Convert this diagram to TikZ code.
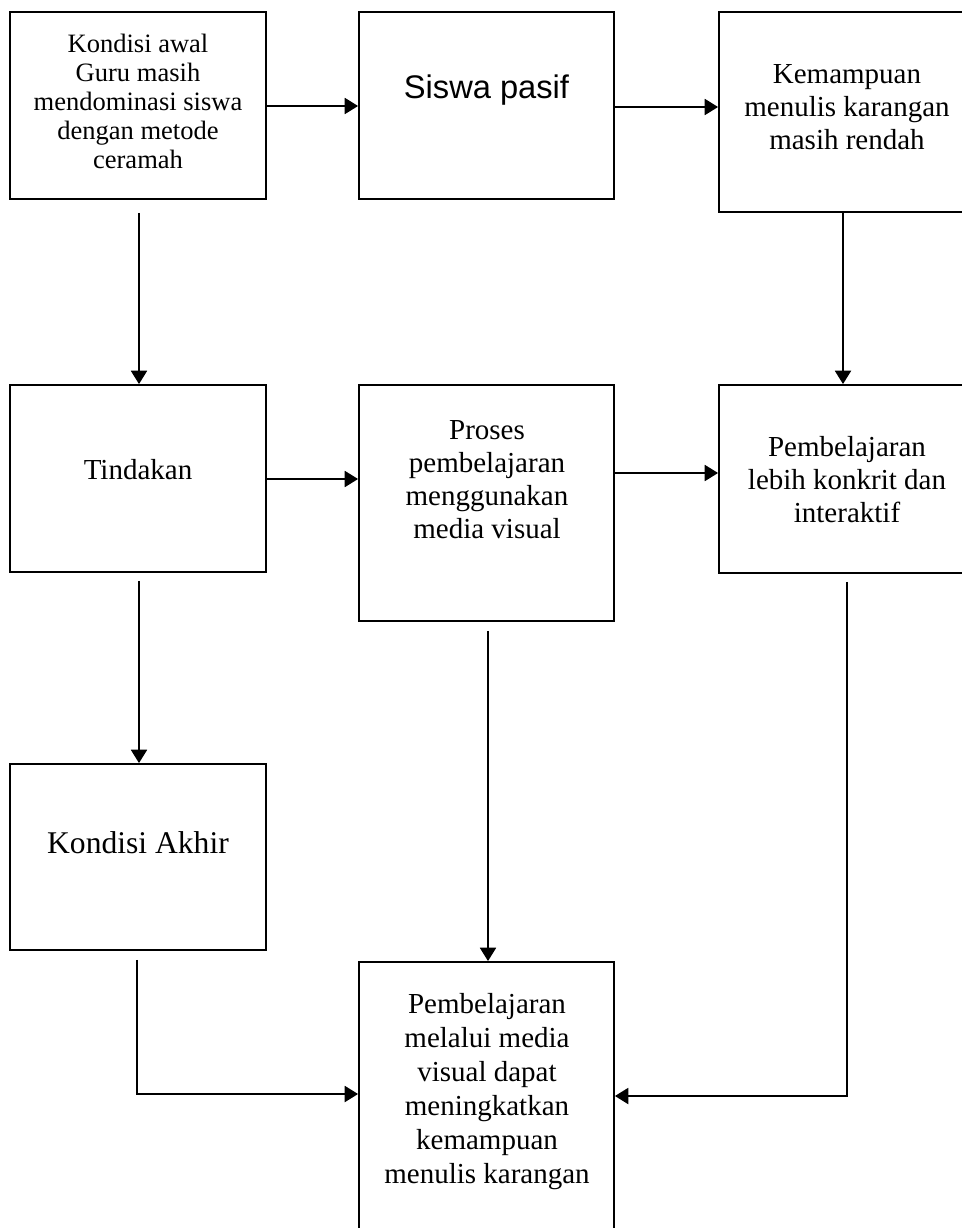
\documentclass[tikz,border=0pt]{standalone}
\usepackage{fontspec}
\setmainfont{Liberation Serif}
\newfontfamily\arialfont{Liberation Sans}
\usetikzlibrary{arrows.meta,calc}
\tikzset{
  box/.style={draw, line width=1.4pt, rectangle, inner sep=0pt},
  txt/.style={align=center, inner sep=0pt, font=\fontsize{21.75pt}{24.75pt}\selectfont},
  arr/.style={line width=1.4pt, -{Triangle[length=10pt,width=12pt]}},
}
\begin{document}
\begin{tikzpicture}[x=0.75pt, y=-0.75pt]
\useasboundingbox (0,0) rectangle (962,1228);
\clip (0,0) rectangle (962,1228);
% boxes
\node[box, minimum width=256*0.75pt, minimum height=187*0.75pt] (b1) at (138,105.5) {};
\node[box, minimum width=255*0.75pt, minimum height=187*0.75pt] (b2) at (486.5,105.5) {};
\node[box, minimum width=256*0.75pt, minimum height=200*0.75pt] (b3) at (847,112) {};
\node[box, minimum width=256*0.75pt, minimum height=187*0.75pt] (b4) at (138,478.5) {};
\node[box, minimum width=255*0.75pt, minimum height=236*0.75pt] (b5) at (486.5,503) {};
\node[box, minimum width=256*0.75pt, minimum height=188*0.75pt] (b6) at (847,479) {};
\node[box, minimum width=256*0.75pt, minimum height=186*0.75pt] (b7) at (138,857) {};
\node[box, minimum width=255*0.75pt, minimum height=280*0.75pt] (b8) at (486.5,1102) {};
% texts
\node[txt, font=\fontsize{19.9pt}{21.75pt}\selectfont] (t1) at (138,101.5) {Kondisi awal\\Guru masih\\mendominasi siswa\\dengan metode\\ceramah};
\node[txt, font=\arialfont\fontsize{24.5pt}{27pt}\selectfont] (t2) at (486.5,90) {Siswa pasif};
\node[txt] (t3) at (847,107) {Kemampuan\\menulis karangan\\masih rendah};
\node[txt] (t4) at (138,470) {Tindakan};
\node[txt] (t5) at (487,480) {Proses\\pembelajaran\\menggunakan\\media visual};
\node[txt] (t6) at (847,480) {Pembelajaran\\lebih konkrit dan\\interaktif};
\node[txt, font=\fontsize{23.7pt}{27pt}\selectfont] (t7) at (138,843) {Kondisi Akhir};
\node[txt, font=\fontsize{21.75pt}{25.5pt}\selectfont] (t8) at (487,1092) {Pembelajaran\\melalui media\\visual dapat\\meningkatkan\\kemampuan\\menulis karangan};
% connector end points
\coordinate (p12) at ($(b1.east)+(0,0.5)$);
\coordinate (p23) at ($(b2.east)+(0,1.5)$);
\coordinate (p45) at ($(b4.east)+(0,0.5)$);
\coordinate (p56) at ($(b5.east |- b6.west)+(0,-6)$);
% connectors
\draw[arr] (p12) -- (p12 -| b2.west);
\draw[arr] (p23) -- (p23 -| b3.west);
\draw[arr] ($(b1.south)+(1,13)$) -- ($(b4.north)+(1,0)$);
\draw[arr] ($(b3.south)+(-4,0)$) -- ($(b6.north)+(-4,0)$);
\draw[arr] (p45) -- (p45 -| b5.west);
\draw[arr] (p56) -- (p56 -| b6.west);
\draw[arr] ($(b4.south)+(1,8)$) -- ($(b7.north)+(1,0)$);
\draw[arr] ($(b5.south)+(1.5,9)$) -- ($(b8.north)+(1.5,0)$);
\draw[arr] ($(b7.south)+(-1,9)$) |- ($(b8.west)+(0,-8)$);
\draw[arr] ($(b6.south)+(0,8)$) |- ($(b8.east)+(0,-6)$);
\end{tikzpicture}
\end{document}
